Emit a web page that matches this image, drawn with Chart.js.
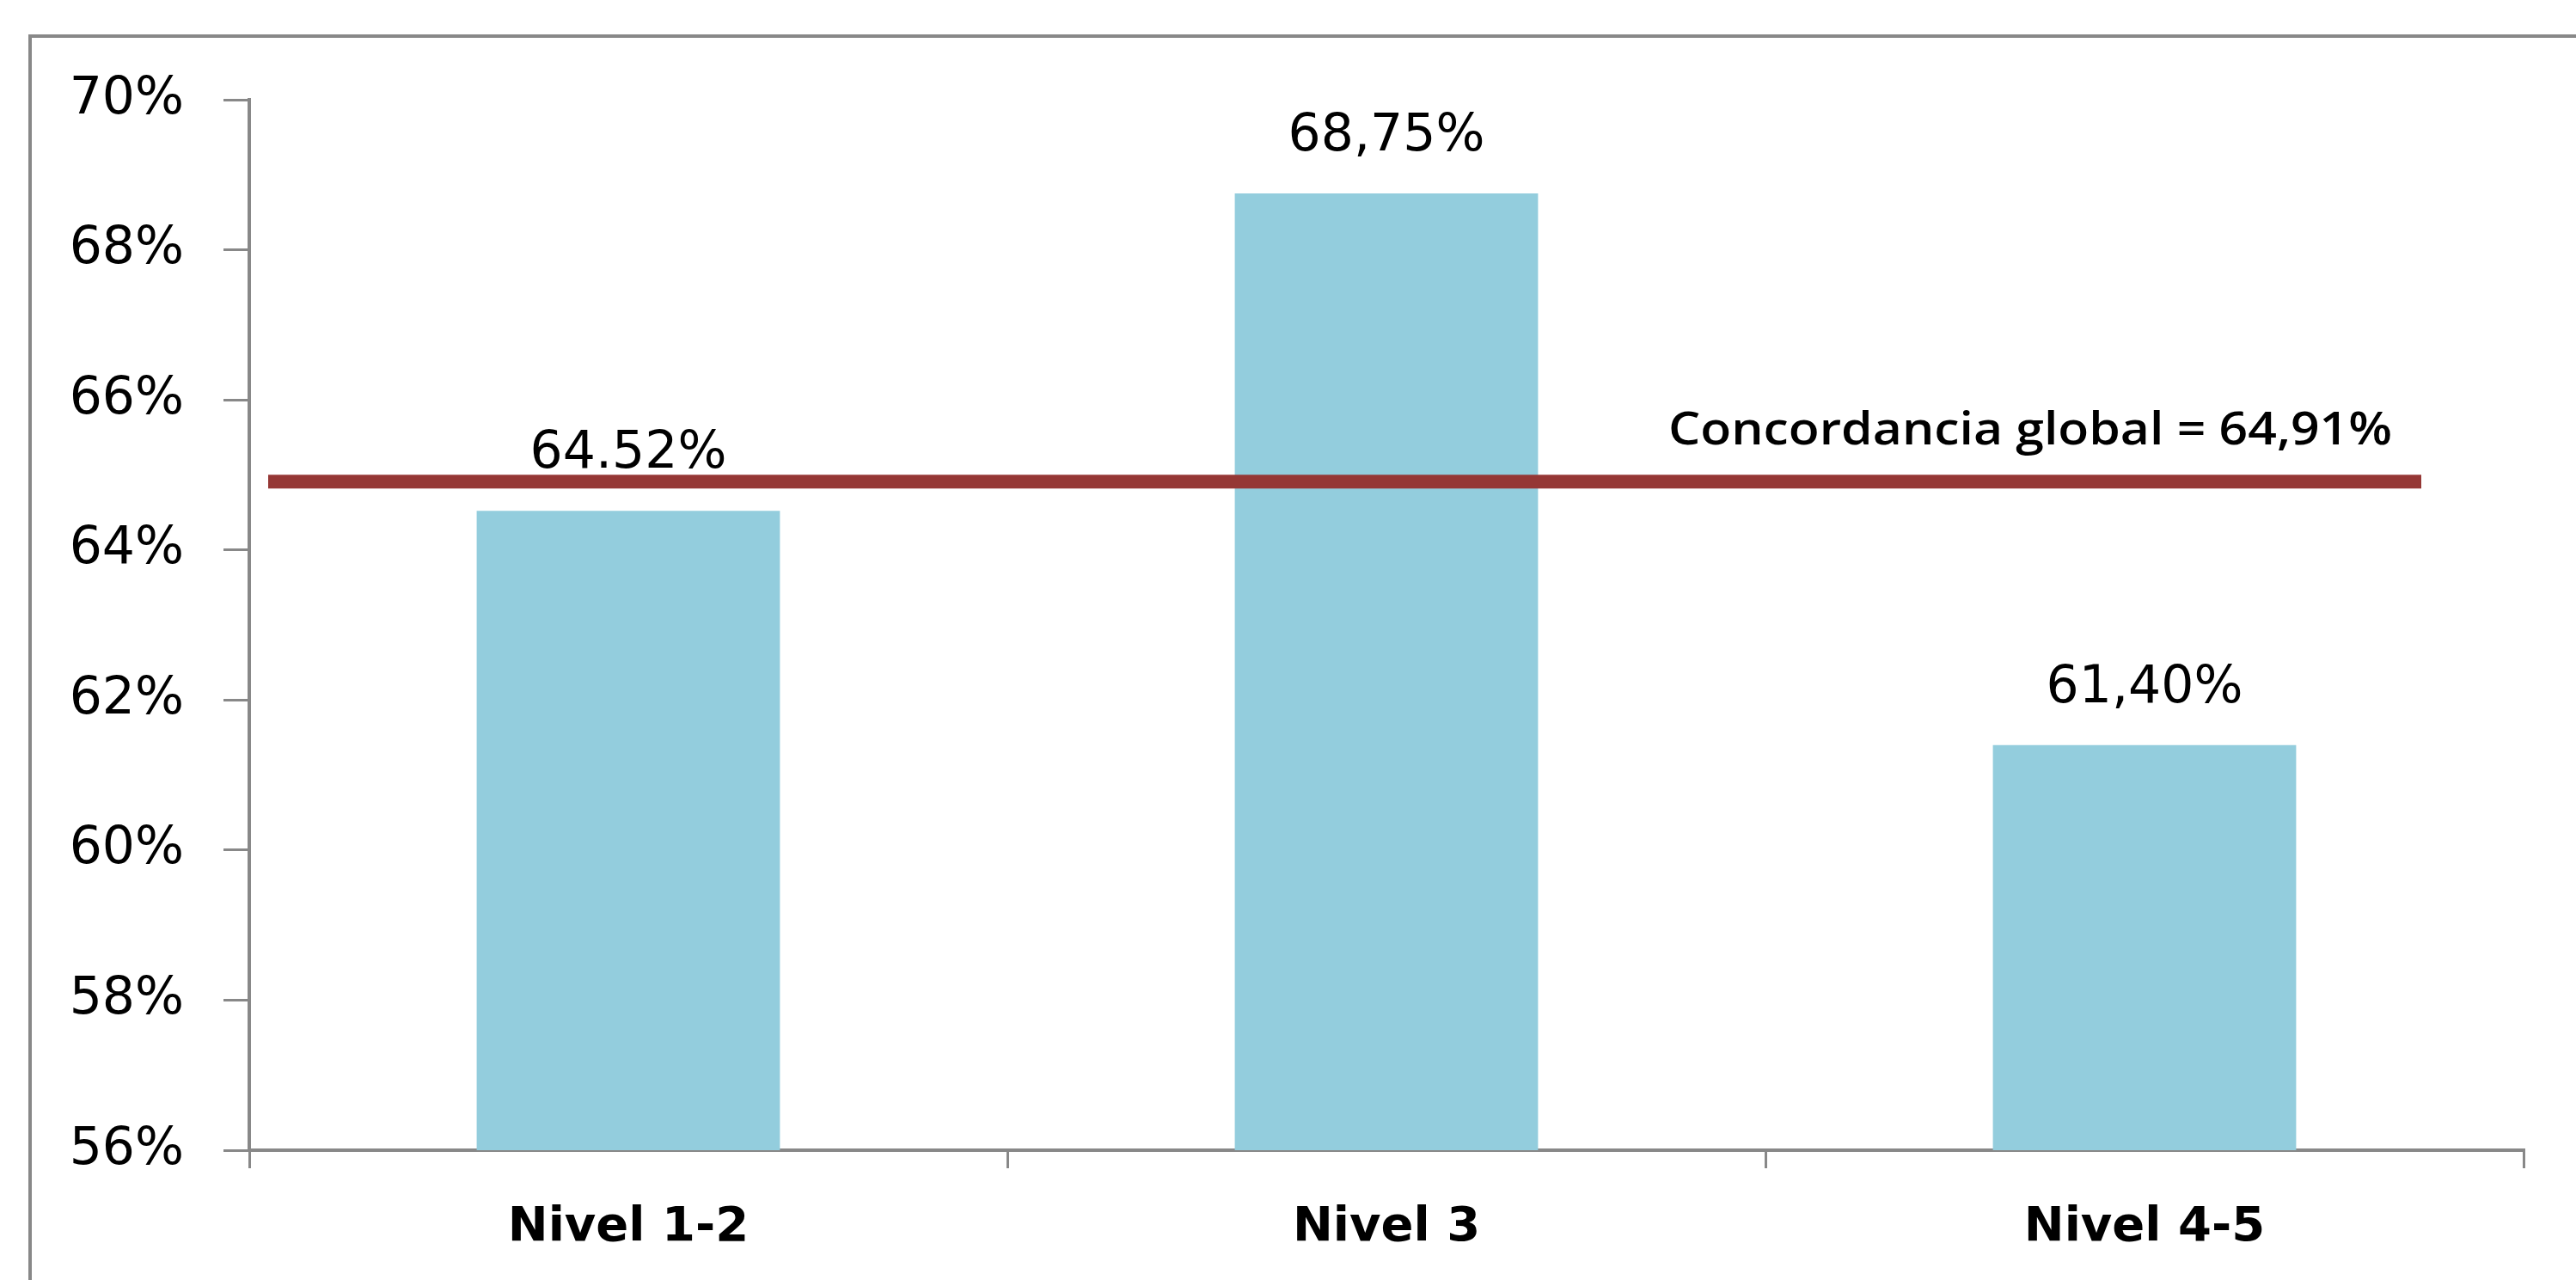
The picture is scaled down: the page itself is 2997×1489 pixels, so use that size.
<!DOCTYPE html>
<html><head><meta charset="utf-8">
<script src="https://cdn.jsdelivr.net/npm/chart.js@4.4.1/dist/chart.umd.min.js"></script>
<style>html,body{margin:0;padding:0;background:#fff;overflow:hidden}</style>
</head><body>
<canvas id="c" width="2997" height="1489"></canvas>
<script>
const categories = ['Nivel 1-2', 'Nivel 3', 'Nivel 4-5'];
const values = [64.52, 68.75, 61.40];
const valueLabels = ['64.52%', '68,75%', '61,40%'];
const yTicks = [56, 58, 60, 62, 64, 66, 68, 70];
const globalValue = 64.91;
const globalLabel = 'Concordancia global = 64,91%';

const AXIS = '#888888';
const BAR = '#93CDDD';
const RED = '#953735';

const framePlugin = {
  id: 'frame',
  beforeDraw(chart) {
    const ctx = chart.ctx;
    ctx.save();
    ctx.fillStyle = '#fff';
    ctx.fillRect(0, 0, chart.width, chart.height);
    ctx.strokeStyle = AXIS;
    ctx.lineWidth = 4;
    ctx.strokeRect(35, 42, chart.width + 100, chart.height + 100);
    ctx.restore();
  }
};

const overlayPlugin = {
  id: 'overlay',
  afterDatasetsDraw(chart) {
    const ctx = chart.ctx;
    const meta = chart.getDatasetMeta(0);
    const area = chart.chartArea;
    const ys = chart.scales.y;
    ctx.save();
    ctx.fillStyle = '#000';
    ctx.font = '60px "DejaVu Sans"';
    ctx.textAlign = 'center';
    ctx.textBaseline = 'alphabetic';
    meta.data.forEach((bar, i) => {
      ctx.fillText(valueLabels[i], bar.x, bar.y - 50);
    });
    const ly = ys.getPixelForValue(globalValue);
    const x1 = area.left + 22;
    const x2 = area.right - 119;
    ctx.fillStyle = RED;
    ctx.fillRect(x1, ly - 8, x2 - x1, 16);
    ctx.fillStyle = '#000';
    ctx.font = '600 53px "Open Sans"';
    ctx.textAlign = 'left';
    const w = ctx.measureText(globalLabel).width;
    const targetW = 842;
    const sx = targetW / w;
    const right = x2 - 34;
    ctx.translate(right - targetW, ly - 43);
    ctx.scale(sx, 1);
    ctx.fillText(globalLabel, 0, 0);
    ctx.restore();
  }
};

new Chart(document.getElementById('c'), {
  type: 'bar',
  data: {
    labels: categories,
    datasets: [{
      data: values,
      backgroundColor: BAR,
      borderWidth: 0,
      barPercentage: 0.4,
      categoryPercentage: 1.0
    }]
  },
  options: {
    responsive: false,
    devicePixelRatio: 1,
    animation: false,
    layout: { padding: { left: 0, top: 116, right: 61, bottom: 0 } },
    plugins: { legend: { display: false }, tooltip: { enabled: false } },
    scales: {
      x: {
        grid: { drawOnChartArea: false, drawTicks: true, tickLength: 21, color: AXIS, lineWidth: 3 },
        border: { display: true, color: AXIS, width: 4 },
        ticks: { color: '#000', font: { family: 'DejaVu Sans', weight: 'bold', size: 56 }, padding: 36, maxRotation: 0 },
        afterFit(scale) { scale.height = 151; }
      },
      y: {
        min: 56, max: 70,
        afterBuildTicks(scale) { scale.ticks = yTicks.map(v => ({ value: v })); },
        grid: { drawOnChartArea: false, drawTicks: true, tickLength: 30, color: AXIS, lineWidth: 3 },
        border: { display: true, color: AXIS, width: 4 },
        ticks: { color: '#000', font: { family: 'DejaVu Sans', size: 60 }, padding: 46, callback: v => v + '%' },
        afterFit(scale) { scale.width = 290; }
      }
    }
  },
  plugins: [framePlugin, overlayPlugin]
});
</script>
</body></html>
